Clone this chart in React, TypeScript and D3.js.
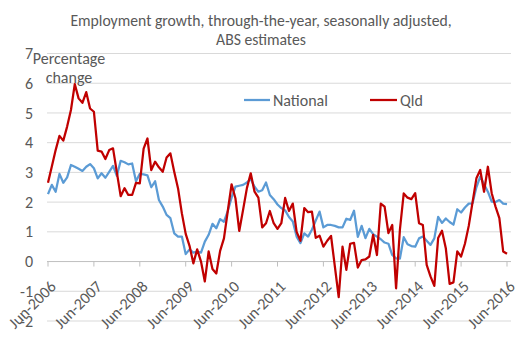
import React from "react";
import * as d3 from "d3";

// monthly, Jun-2006 .. Jun-2016
const national = [
  2.27, 2.58, 2.35, 2.95, 2.65, 2.83, 3.25, 3.19, 3.12, 3.05, 3.19, 3.28,
  3.14, 2.8, 2.97, 2.82, 3.02, 3.22, 2.88, 3.39, 3.34, 3.27, 3.3, 2.7,
  2.95, 2.93, 2.9, 2.5, 2.7, 2.07, 1.85, 1.57, 1.46, 0.95, 0.84, 0.84,
  0.25, 0.41, 0.3, 0.34, 0.3, 0.67, 0.9, 1.27, 1.12, 1.43, 1.34, 1.7,
  2.15, 2.52, 2.55, 2.58, 2.66, 2.78, 2.52, 2.35, 2.4, 2.66, 2.24, 2.1,
  1.92, 1.8, 1.72, 1.5, 1.35, 0.84, 0.62, 0.95, 0.84, 1.07, 1.38, 1.68,
  1.15, 1.23, 1.23, 1.2, 1.15, 1.15, 1.44, 1.4, 1.71, 0.83, 1.2, 0.79,
  1.1, 0.92, 0.84, 0.75, 0.64, 0.6, 0.22, 0.11, 0.1, 0.82, 0.58, 0.52,
  0.5, 0.78, 0.84, 0.7, 0.56, 0.78, 1.5, 1.3, 1.45, 1.33, 1.24, 1.76,
  1.65, 1.82, 1.95, 1.96, 2.5, 2.86, 2.6, 2.35, 2.02, 2.0, 2.07, 1.95,
  1.93,
];

const qld = [
  2.65, 3.2, 3.75, 4.23, 4.07, 4.54, 5.1, 5.97, 5.49, 5.34, 5.7, 5.15,
  5.04, 3.73, 3.7, 3.45, 3.75, 3.81, 3.0, 2.2, 2.47, 2.24, 2.24, 2.65,
  2.63, 3.8, 4.14, 3.08, 3.36, 3.17, 3.02, 3.5, 3.64, 3.02, 2.46, 1.62,
  0.93, 0.53, -0.06, 0.41, 0.0, -0.67, 0.34, -0.25, -0.4, 0.36, 0.78, 1.7,
  2.6, 2.13, 1.03, 1.74, 2.47, 2.97, 2.35, 2.15, 1.15, 1.29, 1.7, 1.29,
  1.1, 1.29, 2.14, 1.7, 1.95, 1.0, 0.7, 1.8, 1.66, 1.68, 0.8, 0.87,
  0.5, 0.7, 0.86, -0.17, -1.2, 0.5, -0.28, 0.6, 0.63, -0.2, 0.05, 0.07,
  0.17, 0.9, 0.22, 1.95, 1.85, 0.96, 1.23, -0.9, 1.07, 2.29, 2.15, 2.1,
  2.3, 1.29, 1.23, -0.11, -0.5, -0.82, 0.79, 1.04, 0.45, -0.75, -0.7, 0.34,
  0.17, 0.6, 1.2, 2.0, 2.8, 3.08, 2.35, 3.19, 2.3, 1.85, 1.46, 0.34,
  0.26,
];

const yTicks = [-2, -1, 0, 1, 2, 3, 4, 5, 6, 7];
const xTickLabels = [
  "Jun-2006", "Jun-2007", "Jun-2008", "Jun-2009", "Jun-2010", "Jun-2011",
  "Jun-2012", "Jun-2013", "Jun-2014", "Jun-2015", "Jun-2016",
];

const fmtMonth = d3.timeFormat("%b-%Y");
const months = d3
  .timeMonth.range(new Date(2006, 5, 1), new Date(2016, 6, 1))
  .map((d) => fmtMonth(d));

const W = 531;
const H = 363;
const font = "Calibri, Carlito, 'Liberation Sans', Arial, sans-serif";
const textColor = "#595959";

export default function App() {
  const x = d3.scalePoint<string>().domain(months).range([48, 507]);
  const y = d3.scaleLinear().domain([-2, 7]).range([321, 53.5]);
  const plotLeft = 47;
  const plotRight = 511;

  const line = d3
    .line<number>()
    .x((_, i) => x(months[i]) as number)
    .y((d) => y(d));

  return (
    <svg
      width={W}
      height={H}
      style={{ position: "absolute", left: 0, top: 0, background: "#fff" }}
      fontFamily={font}
    >
      {/* title */}
      <text x={261} y={26} textAnchor="middle" fontSize={15.7} fill={textColor}>
        Employment growth, through-the-year, seasonally adjusted,
      </text>
      <text x={261} y={45} textAnchor="middle" fontSize={15.7} fill={textColor}>
        ABS estimates
      </text>

      {/* gridlines */}
      {yTicks.map((t) => (
        <line
          key={t}
          x1={plotLeft}
          x2={plotRight}
          y1={y(t)}
          y2={y(t)}
          stroke={t === 0 ? "#bfbfbf" : "#d9d9d9"}
          strokeWidth={1}
        />
      ))}

      {/* y tick labels */}
      {yTicks.map((t) => (
        <text
          key={t}
          x={33}
          y={y(t)}
          dy="0.35em"
          textAnchor="end"
          fontSize={16}
          fill={textColor}
        >
          {t}
        </text>
      ))}

      {/* x ticks + labels */}
      {xTickLabels.map((lab) => {
        const xx = x(lab) as number;
        return (
          <g key={lab}>
            <line x1={xx} x2={xx} y1={y(0)} y2={y(0) + 5} stroke="#bfbfbf" />
            <text
              transform={`translate(${xx + 5},${y(0) + 22}) rotate(-45)`}
              textAnchor="end"
              dy="0.35em"
              fontSize={16}
              fill={textColor}
            >
              {lab}
            </text>
          </g>
        );
      })}

      {/* series */}
      <path d={line(national) ?? ""} fill="none" stroke="#5b9bd5" strokeWidth={2.25} strokeLinejoin="round" />
      <path d={line(qld) ?? ""} fill="none" stroke="#c00000" strokeWidth={2.25} strokeLinejoin="round" />

      {/* axis title */}
      <text x={69} y={64} textAnchor="middle" fontSize={16} fill={textColor}>
        Percentage
      </text>
      <text x={69} y={83} textAnchor="middle" fontSize={16} fill={textColor}>
        change
      </text>

      {/* legend */}
      <line x1={244} x2={270} y1={100} y2={100} stroke="#5b9bd5" strokeWidth={2.25} />
      <text x={273} y={100} dy="0.35em" fontSize={16} fill={textColor}>
        National
      </text>
      <line x1={370} x2={397} y1={100} y2={100} stroke="#c00000" strokeWidth={2.25} />
      <text x={400} y={100} dy="0.35em" fontSize={16} fill={textColor}>
        Qld
      </text>
    </svg>
  );
}
